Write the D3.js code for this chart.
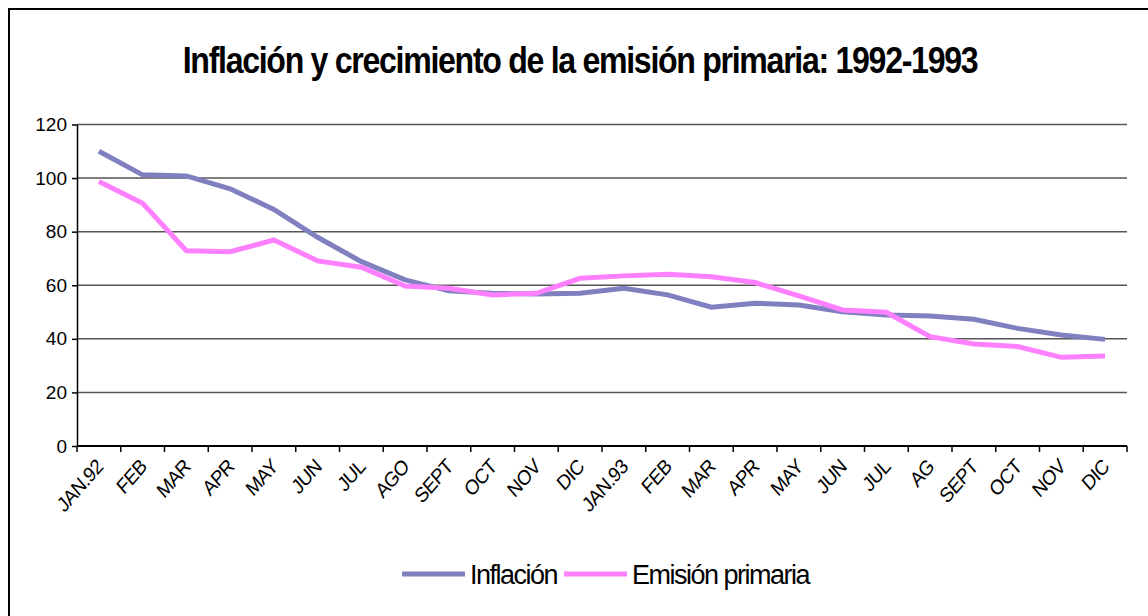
<!DOCTYPE html>
<html>
<head>
<meta charset="utf-8">
<script src="https://cdn.jsdelivr.net/npm/d3@7"></script>
<style>
  body { margin: 0; background: #fff; }
  svg { font-family: "Liberation Sans", Arial, sans-serif; }
</style>
</head>
<body>
<svg id="chart" width="1148" height="616"></svg>
<script>
// Data
const months = ["JAN.92", "FEB", "MAR", "APR", "MAY", "JUN", "JUL", "AGO", "SEPT", "OCT", "NOV", "DIC",
  "JAN.93", "FEB", "MAR", "APR", "MAY", "JUN", "JUL", "AG", "SEPT", "OCT", "NOV", "DIC"];
const inflacion = [110, 101.2, 100.8, 96, 88.3, 77.9, 68.8, 62, 57.9, 57, 56.7, 57,
  58.9, 56.4, 51.8, 53.3, 52.6, 50.1, 48.9, 48.5, 47.3, 43.9, 41.4, 39.8];
const emision = [98.7, 90.6, 72.9, 72.5, 76.9, 69.1, 66.7, 59.7, 58.9, 56.4, 57, 62.6,
  63.5, 64.1, 63.2, 61, 56, 50.8, 49.9, 40.8, 38.1, 37.1, 33.1, 33.6];
const yTicks = [0, 20, 40, 60, 80, 100, 120];
const seriesNames = ["Inflación", "Emisión primaria"];
const colors = ["#8080c0", "#ff80ff"];

const svg = d3.select("#chart");

// outer frame (top + left visible)
svg.append("path")
  .attr("d", "M9,616 V9 H1148")
  .attr("fill", "none")
  .attr("stroke", "#000")
  .attr("stroke-width", 2);

// title (the original is squeezed horizontally)
svg.append("text")
  .attr("transform", "translate(580,73) scale(0.868,1)")
  .attr("text-anchor", "middle")
  .attr("font-size", 37)
  .attr("font-weight", "bold")
  .attr("letter-spacing", -1.5)
  .text("Inflación y crecimiento de la emisión primaria: 1992-1993");

const plotLeft = 77, plotRight = 1127, plotTop = 124.5, plotBottom = 446;

// band scale keyed by index since month names repeat
const xScale = d3.scaleBand()
  .domain(months.map((d, i) => i))
  .range([plotLeft, plotRight])
  .padding(0);

const yScale = d3.scaleLinear()
  .domain([0, 120])
  .range([plotBottom, plotTop]);

// gridlines
svg.append("g")
  .selectAll("line")
  .data(yTicks.filter((d) => d > 0))
  .enter()
  .append("line")
  .attr("x1", plotLeft)
  .attr("x2", plotRight)
  .attr("y1", (d) => yScale(d))
  .attr("y2", (d) => yScale(d))
  .attr("stroke", "#555")
  .attr("stroke-width", 1.5);

// y axis
const yAxis = svg.append("g")
  .attr("transform", `translate(${plotLeft},0)`)
  .call(d3.axisLeft(yScale).tickValues(yTicks).tickSize(5).tickPadding(5).tickSizeOuter(0));
yAxis.select(".domain").attr("stroke", "#000").attr("stroke-width", 1.5);
yAxis.selectAll(".tick line").attr("stroke", "#000").attr("stroke-width", 1.5);
yAxis.selectAll("text")
  .attr("font-size", 19)
  .attr("font-family", "Liberation Sans, Arial, sans-serif")
  .attr("fill", "#000");

// x axis: ticks between categories
const edges = d3.range(months.length + 1).map((i) => plotLeft + i * xScale.step());
svg.append("line")
  .attr("x1", plotLeft).attr("x2", plotRight)
  .attr("y1", plotBottom).attr("y2", plotBottom)
  .attr("stroke", "#000").attr("stroke-width", 2);
svg.append("g")
  .selectAll("line")
  .data(edges)
  .enter()
  .append("line")
  .attr("x1", (d) => d).attr("x2", (d) => d)
  .attr("y1", plotBottom).attr("y2", plotBottom + 6)
  .attr("stroke", "#000").attr("stroke-width", 1.5);

// rotated labels, slightly squeezed like the original
const xLabels = svg.append("g")
  .selectAll("g")
  .data(months)
  .enter()
  .append("g")
  .attr("transform", (d, i) => {
    const cx = xScale(i) + xScale.bandwidth() / 2 + 5;
    return `translate(${cx},${plotBottom + 22}) scale(0.87,1)`;
  });
xLabels.append("text")
  .attr("transform", "rotate(-45)")
  .attr("text-anchor", "end")
  .attr("font-size", 21)
  .attr("letter-spacing", -0.8)
  .text((d) => d);

// lines
const line = d3.line()
  .x((d, i) => xScale(i) + xScale.bandwidth() / 2)
  .y((d) => yScale(d));

[inflacion, emision].forEach((s, k) => {
  svg.append("path")
    .datum(s)
    .attr("fill", "none")
    .attr("stroke", colors[k])
    .attr("stroke-width", 5)
    .attr("stroke-linejoin", "miter")
    .attr("d", line);
});

// legend
const legendItems = [
  { x: 402, text: seriesNames[0], color: colors[0] },
  { x: 564, text: seriesNames[1], color: colors[1] },
];
const legend = svg.append("g");
legendItems.forEach((it) => {
  legend.append("line")
    .attr("x1", it.x).attr("x2", it.x + 63)
    .attr("y1", 574).attr("y2", 574)
    .attr("stroke", it.color).attr("stroke-width", 5);
  legend.append("text")
    .attr("x", it.x + 68)
    .attr("y", 584)
    .attr("font-size", 27)
    .attr("letter-spacing", -1.5)
    .text(it.text);
});
</script>
</body>
</html>
